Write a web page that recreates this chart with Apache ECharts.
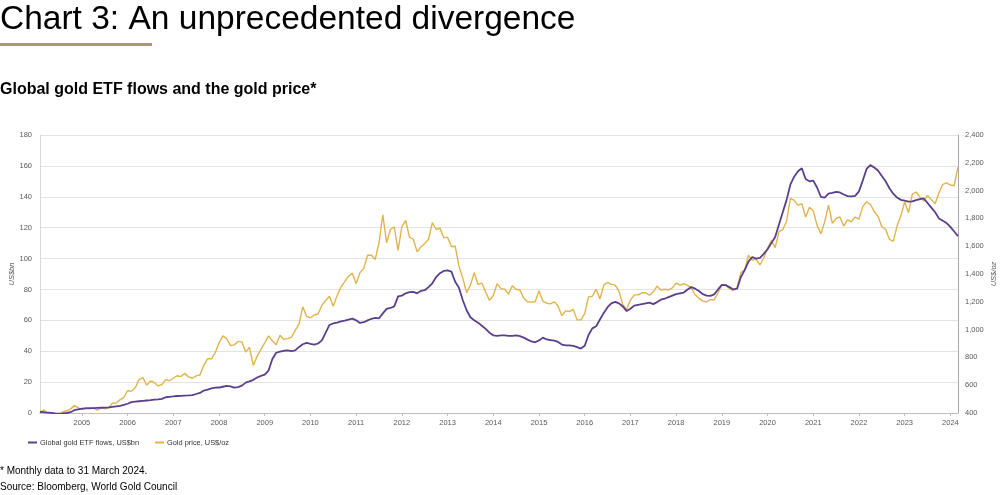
<!DOCTYPE html>
<html>
<head>
<meta charset="utf-8">
<script src="https://cdn.jsdelivr.net/npm/echarts@6/dist/echarts.min.js"></script>
<style>
html,body{margin:0;padding:0;background:#fff;}
#chart{width:1008px;height:495px;}
</style>
</head>
<body>
<div id="chart"></div>
<script>
// Monthly data, Feb 2004 - Mar 2024
var startYear = 2004, startMonth = 2, monthCount = 242;

var etfFlows = [
  0.8, 0.5, 0.3, 0.1, -0.2, -0.4, -0.3, 0.0, 0.5, 1.8, 2.4,
  2.8, 3.0, 3.1, 3.2, 3.3, 3.4, 3.5, 3.7, 4.0, 4.3, 4.6, 5.2,
  6.0, 7.0, 7.3, 7.6, 7.9, 8.1, 8.3, 8.6, 8.8, 9.1, 10.2, 10.5,
  10.7, 11.0, 11.1, 11.3, 11.4, 11.6, 12.3, 13.0, 14.5, 15.2, 15.9, 16.4,
  16.5, 17.0, 17.5, 17.3, 16.4, 16.8, 17.7, 19.7, 20.5, 21.5, 23.0, 24.0,
  24.8, 27.5, 35.0, 39.0, 39.8, 40.3, 40.6, 40.0, 40.5, 42.8, 44.5, 45.4,
  44.8, 44.3, 45.0, 47.0, 52.0, 57.0, 58.0, 58.5, 59.3, 59.8, 60.5, 61.1,
  60.0, 58.3, 58.8, 60.0, 61.0, 61.6, 61.3, 64.5, 67.4, 68.0, 69.0, 75.5,
  76.0, 77.5, 78.2, 78.4, 77.5, 79.0, 79.5, 81.5, 84.0, 88.0, 90.5, 92.0,
  92.3, 91.5, 85.0, 81.0, 73.0, 66.5, 62.0, 60.0, 58.5, 56.5, 54.5, 52.0,
  50.3, 50.0, 50.3, 50.2, 49.9, 50.0, 50.3, 49.8, 48.8, 47.5, 46.3, 45.8,
  47.0, 48.8, 47.6, 47.2, 46.8, 46.0, 44.3, 43.8, 43.8, 43.5, 42.6, 41.7,
  43.5, 50.5, 54.8, 56.2, 60.5, 64.8, 68.5, 71.0, 72.0, 71.0, 69.0, 66.0,
  67.5, 69.5, 70.0, 70.5, 71.0, 71.5, 70.5, 71.8, 73.4, 74.0, 75.0, 76.0,
  77.0, 77.5, 78.0, 80.0, 81.5, 80.5, 79.0, 77.0, 76.0, 75.8, 76.8, 80.0,
  83.0, 82.8, 81.5, 80.0, 80.5, 88.0, 92.5, 98.0, 101.0, 100.0, 100.5, 103.0,
  106.0, 110.0, 114.0, 122.0, 130.0, 138.0, 148.0, 153.0, 156.5, 158.5, 151.5, 150.0,
  150.5, 146.0, 140.0, 139.5, 142.0, 142.5, 143.2, 142.8, 141.5, 140.4, 140.3, 140.6,
  143.5, 150.5, 158.0, 160.5, 159.0, 157.0, 153.5, 150.0, 145.5, 142.0, 139.5, 138.0,
  137.5, 136.8, 137.0, 137.8, 138.5, 138.9, 136.0, 133.0, 130.0, 126.0, 124.5, 123.0,
  120.5, 117.5, 114.5
];

var goldPrice = [
  400, 424, 390, 393, 395, 391, 407, 416, 428, 453, 438,
  425, 436, 430, 436, 420, 437, 431, 435, 470, 472, 495, 513,
  560, 557, 582, 640, 655, 600, 630, 620, 595, 605, 640, 632,
  650, 668, 663, 685, 660, 650, 667, 673, 743, 790, 790, 834,
  905, 955, 935, 885, 890, 915, 912, 838, 872, 742, 808, 858,
  905, 955, 920, 890, 960, 930, 935, 945, 995, 1040, 1165, 1095,
  1085, 1105, 1112, 1175, 1210, 1240, 1168, 1245, 1305, 1345, 1385, 1405,
  1330, 1410, 1440, 1535, 1535, 1505, 1625, 1825, 1625, 1720, 1740, 1570,
  1740, 1785, 1665, 1650, 1560, 1595, 1620, 1650, 1770, 1720, 1730, 1660,
  1665, 1598, 1600, 1455, 1370, 1265, 1320, 1410, 1325, 1335, 1270, 1210,
  1245, 1330, 1295, 1290, 1255, 1315, 1290, 1285, 1225, 1200, 1198, 1200,
  1280, 1205, 1190, 1185, 1200, 1170, 1100, 1135, 1130, 1145, 1070, 1070,
  1115, 1235, 1240, 1290, 1220, 1320, 1340, 1325, 1320, 1275, 1180, 1145,
  1212, 1250, 1250, 1265, 1265, 1248, 1270, 1312, 1285, 1290, 1285, 1300,
  1335, 1320, 1330, 1318, 1300, 1250, 1225, 1205, 1200, 1215, 1215, 1265,
  1320, 1320, 1295, 1283, 1300, 1410, 1430, 1535, 1500, 1505, 1465, 1515,
  1585, 1640, 1590, 1705, 1720, 1780, 1945, 1930, 1895, 1905, 1810, 1880,
  1855, 1750, 1690, 1775, 1895, 1765, 1800, 1810, 1745, 1790, 1775, 1810,
  1795, 1885, 1920, 1900, 1850, 1815, 1740, 1720, 1650, 1635, 1745, 1820,
  1920, 1840, 1975, 1990, 1955, 1925, 1965, 1935, 1905, 1985, 2045, 2055,
  2040, 2035, 2170
];

var leftTicks = {min: 0, max: 180, interval: 20};
var rightTicks = {min: 400, max: 2400, interval: 200};
var seriesNames = ['Global gold ETF flows, US$bn', 'Gold price, US$/oz'];
var titleText = 'Chart 3: An unprecedented divergence';
var subtitleText = 'Global gold ETF flows and the gold price*';
var footnotes = ['* Monthly data to 31 March 2024.', 'Source: Bloomberg, World Gold Council'];

var months = [];
for (var k = 0; k < monthCount; k++) {
  var m0 = startMonth - 1 + k;
  var yy = startYear + Math.floor(m0 / 12);
  var mm = (m0 % 12) + 1;
  months.push(yy + '-' + (mm < 10 ? '0' + mm : mm));
}
function isJan(idx, val) { return months[idx].slice(5) === '01'; }

var FONT = '"Liberation Sans", Arial, sans-serif';
var chart = echarts.init(document.getElementById('chart'), null, {renderer: 'canvas'});
chart.setOption({
  backgroundColor: '#ffffff',
  animation: false,
  textStyle: {fontFamily: FONT},
  graphic: [
    {type: 'text', left: 0, top: 3, style: {text: titleText, font: 'normal 33.5px ' + FONT, fill: '#000'}},
    {type: 'rect', shape: {x: 0, y: 43, width: 152, height: 3}, style: {fill: '#a89a6b'}},
    {type: 'text', left: 0, top: 82, style: {text: subtitleText, font: 'bold 16px ' + FONT, fill: '#000'}},
    {type: 'text', left: 0, top: 466, style: {text: footnotes[0], font: 'normal 10px ' + FONT, fill: '#000'}},
    {type: 'text', left: 0, top: 482, style: {text: footnotes[1], font: 'normal 10px ' + FONT, fill: '#000'}}
  ],
  legend: {
    left: 23, top: 434,
    data: seriesNames,
    itemWidth: 9, itemHeight: 2, itemGap: 16,
    icon: 'rect',
    textStyle: {fontSize: 7.4, color: '#333', fontFamily: FONT, padding: [0, 0, 0, -2]}
  },
  grid: {left: 40, right: 50, top: 135, bottom: 82, containLabel: false, outerBoundsMode: 'none'},
  xAxis: {
    type: 'category',
    data: months,
    boundaryGap: false,
    axisLine: {show: true, lineStyle: {color: '#bfbfbf', width: 1}},
    axisTick: {show: true, interval: isJan, length: 3, lineStyle: {color: '#bfbfbf'}},
    axisLabel: {interval: isJan, formatter: function (v) { return v.slice(0, 4); }, fontSize: 7.5, color: '#595959', margin: 6},
    splitLine: {show: false}
  },
  yAxis: [
    {
      type: 'value', position: 'left',
      min: leftTicks.min, max: leftTicks.max, interval: leftTicks.interval,
      name: 'US$bn', nameLocation: 'middle', nameRotate: 90, nameGap: 24, nameMoveOverlap: false,
      nameTextStyle: {fontSize: 7.5, color: '#595959', fontStyle: 'italic'},
      axisLine: {show: true, lineStyle: {color: '#d9d9d9'}},
      axisTick: {show: false},
      axisLabel: {fontSize: 7.5, color: '#595959', margin: 8},
      splitLine: {show: true, lineStyle: {color: '#e3e3e3', width: 1}}
    },
    {
      type: 'value', position: 'right',
      min: rightTicks.min, max: rightTicks.max, interval: rightTicks.interval,
      name: 'US$/oz', nameLocation: 'middle', nameRotate: 90, nameGap: 32, nameMoveOverlap: false,
      nameTextStyle: {fontSize: 7.5, color: '#595959', fontStyle: 'italic'},
      axisLine: {show: true, lineStyle: {color: '#a6a6a6'}},
      axisTick: {show: false},
      axisLabel: {fontSize: 7.5, color: '#595959', margin: 7,
        formatter: function (v) { return v.toLocaleString('en-US'); }},
      splitLine: {show: false}
    }
  ],
  series: [
    {
      name: seriesNames[1], type: 'line', yAxisIndex: 1, data: goldPrice,
      showSymbol: false, symbol: 'none', z: 2,
      lineStyle: {color: '#e0b44c', width: 1.4}, itemStyle: {color: '#e0b44c'}
    },
    {
      name: seriesNames[0], type: 'line', yAxisIndex: 0, data: etfFlows,
      showSymbol: false, symbol: 'none', z: 3,
      lineStyle: {color: '#5a3f8c', width: 1.8}, itemStyle: {color: '#5a3f8c'}
    }
  ]
});
</script>
</body>
</html>
